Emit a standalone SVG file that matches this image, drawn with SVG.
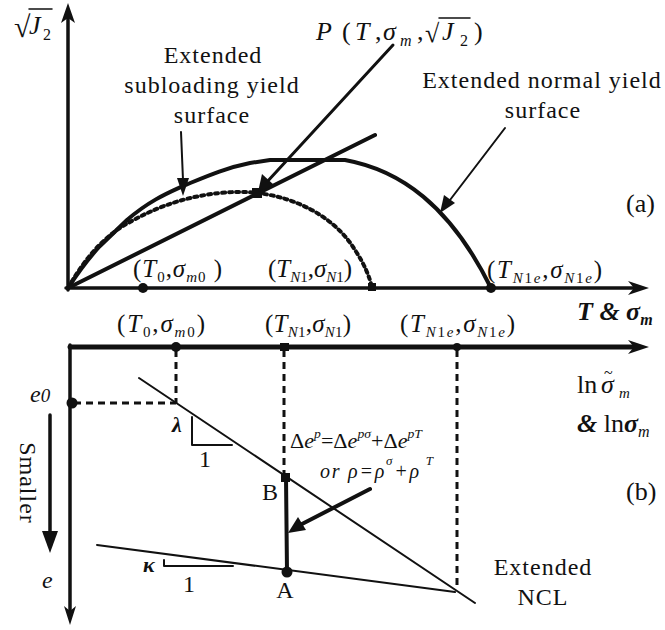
<svg xmlns="http://www.w3.org/2000/svg" width="665" height="630" viewBox="0 0 665 630">
<style>
text{font-family:"Liberation Serif","Times New Roman",serif;fill:#111}
.lab{font-size:24px;letter-spacing:1px;text-anchor:middle}
.it{font-style:italic}
.bi{font-style:italic;font-weight:bold}
.ln{stroke:#111;fill:none;stroke-linecap:round;stroke-linejoin:round}
.ax{stroke-width:3.5}
.dash{stroke:#111;fill:none;stroke-width:3;stroke-dasharray:7 5}
.dot{fill:#111}
</style>
<rect width="665" height="630" fill="#fff"/>

<!-- Part (a) -->
<g id="axes-a">
<line class="ln ax" x1="68" y1="290" x2="68" y2="16"/>
<polygon class="dot" points="68,3 61,23 68,18 75,23"/>
<line class="ln ax" x1="66" y1="288" x2="636" y2="288"/>
<polygon class="dot" points="649,288 628,281 634,288 628,295"/>
</g>

<g id="normal-surface">
<path class="ln" stroke-width="4" d="M68,288 Q85,262 100,246 L127,220 C150,200 170,192 183,186 C205,177 225,168 250,163 L270,160 L345,160 C400,170 450,205 491,288"/>
</g>
<g id="subloading-surface">
<path class="ln" stroke-width="4" stroke-linecap="butt" stroke-dasharray="3 4" d="M68,288 C85,258 105,235 130,222 C160,205 190,196 220,193 C240,191 255,192 270,195 C310,203 340,225 355,250 C365,265 370,278 372,288"/>
</g>
<g id="stress-line">
<line class="ln" stroke-width="4" x1="68" y1="288" x2="375" y2="135"/>
</g>
<g id="points-a">
<circle class="dot" cx="143" cy="288" r="5"/>
<rect class="dot" x="368" y="283" width="8" height="8"/>
<circle class="dot" cx="491" cy="288" r="5"/>
<rect class="dot" x="252" y="188" width="10" height="10"/>
</g>

<g id="labels-a">
<text x="14" y="37" font-size="30">√</text>
<line class="ln" stroke-width="1.5" x1="29" y1="9" x2="52" y2="9"/>
<text x="29" y="34" font-size="26" class="it">J</text>
<text x="43" y="40" font-size="16">2</text>

<text x="316" y="40" font-size="26" class="it">P</text>
<text x="342" y="40" font-size="26">(</text>
<text x="355" y="40" font-size="26" class="it">T</text>
<text x="375" y="40" font-size="26">,</text>
<text x="383" y="40" font-size="26" class="it">σ</text>
<text x="400" y="46" font-size="16" class="it">m</text>
<text x="417" y="40" font-size="26">,</text>
<text x="425" y="42" font-size="26">√</text>
<line class="ln" stroke-width="1.5" x1="439" y1="18" x2="470" y2="18"/>
<text x="442" y="40" font-size="26" class="it">J</text>
<text x="460" y="46" font-size="16">2</text>
<text x="474" y="40" font-size="26">)</text>

<text class="lab" x="213" y="63">Extended</text>
<text class="lab" x="212" y="93">subloading yield</text>
<text class="lab" x="212" y="123">surface</text>

<text class="lab" x="542" y="88">Extended normal yield</text>
<text class="lab" x="543" y="118">surface</text>

<text x="626" y="212" font-size="26">(a)</text>

<text x="133" y="277" font-size="25" textLength="89" lengthAdjust="spacing">(<tspan class="it">T</tspan><tspan font-size="15" dy="5">0</tspan><tspan dy="-5">,</tspan><tspan class="it">σ</tspan><tspan font-size="15" class="it" dy="5">m</tspan><tspan font-size="15">0</tspan><tspan dy="-5"> )</tspan></text>
<text x="268" y="277" font-size="25" textLength="84" lengthAdjust="spacing">(<tspan class="it">T</tspan><tspan font-size="15" class="it" dy="5">N</tspan><tspan font-size="15">1</tspan><tspan dy="-5">,</tspan><tspan class="it">σ</tspan><tspan font-size="15" class="it" dy="5">N</tspan><tspan font-size="15">1</tspan><tspan dy="-5">)</tspan></text>
<text x="487" y="278" font-size="25" textLength="115" lengthAdjust="spacing">(<tspan class="it">T</tspan><tspan font-size="15" class="it" dy="5">N</tspan><tspan font-size="15">1</tspan><tspan font-size="15" class="it">e</tspan><tspan dy="-5">,</tspan><tspan class="it">σ</tspan><tspan font-size="15" class="it" dy="5">N</tspan><tspan font-size="15">1</tspan><tspan font-size="15" class="it">e</tspan><tspan dy="-5">)</tspan></text>

<text x="577" y="320" font-size="26" class="bi">T &amp; σ<tspan font-size="16" dy="5">m</tspan></text>
</g>

<!-- Part (b) -->
<g id="axes-b">
<line class="ln" stroke-width="5" stroke-linecap="square" x1="70" y1="347" x2="634" y2="347"/>
<polygon class="dot" points="649,347 628,340 634,347 628,354"/>
<line class="ln ax" x1="70" y1="345" x2="70" y2="612"/>
<polygon class="dot" points="70,625 64,606 70,611 76,606"/>
</g>

<g id="guides-b">
<line class="dash" x1="176" y1="350" x2="176" y2="403"/>
<line class="dash" x1="74" y1="403" x2="176" y2="403"/>
<line class="dash" x1="284" y1="350" x2="284" y2="474"/>
<line class="dash" x1="457" y1="350" x2="457" y2="590"/>
</g>

<g id="ncl">
<line class="ln" stroke-width="2" x1="139" y1="378" x2="475" y2="603"/>
<polyline class="ln" stroke-width="2" points="192,417 192,445 232,445"/>
</g>
<g id="url">
<line class="ln" stroke-width="2" x1="97" y1="545" x2="455" y2="592"/>
<polyline class="ln" stroke-width="2" points="164,560 164,566 233,566"/>
</g>
<g id="path-BA">
<line class="ln" stroke-width="4" x1="286" y1="477" x2="287" y2="572"/>
</g>
<g id="points-b">
<circle class="dot" cx="176" cy="347" r="5"/>
<rect class="dot" x="280" y="343" width="9" height="8"/>
<circle class="dot" cx="457" cy="347" r="4"/>
<circle class="dot" cx="72" cy="403" r="5.5"/>
<rect class="dot" x="281" y="473" width="9" height="9"/>
<circle class="dot" cx="287" cy="572" r="5.5"/>
</g>

<g id="labels-b">
<text x="117" y="332" font-size="25" textLength="88" lengthAdjust="spacing">(<tspan class="it">T</tspan><tspan font-size="15" dy="5">0</tspan><tspan dy="-5">,</tspan><tspan class="it">σ</tspan><tspan font-size="15" class="it" dy="5">m</tspan><tspan font-size="15">0</tspan><tspan dy="-5">)</tspan></text>
<text x="265" y="332" font-size="25" textLength="86" lengthAdjust="spacing">(<tspan class="it">T</tspan><tspan font-size="15" class="it" dy="5">N</tspan><tspan font-size="15">1</tspan><tspan dy="-5">,</tspan><tspan class="it">σ</tspan><tspan font-size="15" class="it" dy="5">N</tspan><tspan font-size="15">1</tspan><tspan dy="-5">)</tspan></text>
<text x="400" y="332" font-size="25" textLength="115" lengthAdjust="spacing">(<tspan class="it">T</tspan><tspan font-size="15" class="it" dy="5">N</tspan><tspan font-size="15">1</tspan><tspan font-size="15" class="it">e</tspan><tspan dy="-5">,</tspan><tspan class="it">σ</tspan><tspan font-size="15" class="it" dy="5">N</tspan><tspan font-size="15">1</tspan><tspan font-size="15" class="it">e</tspan><tspan dy="-5">)</tspan></text>

<text x="577" y="393" font-size="26">ln</text>
<text x="601" y="393" font-size="26" class="it">σ</text>
<text x="604" y="378" font-size="16">~</text>
<text x="619" y="398" font-size="15" class="it">m</text>

<text x="577" y="432" font-size="26"><tspan class="bi">&amp;</tspan> ln<tspan class="bi">σ</tspan><tspan class="it" font-size="16" dy="5">m</tspan></text>

<text x="30" y="402" font-size="24" class="it">e<tspan font-size="19">0</tspan></text>
<text x="42" y="588" font-size="24" class="it">e</text>
<text x="172" y="432" font-size="22" class="bi">λ</text>
<text x="205" y="467" font-size="24" text-anchor="middle">1</text>
<text x="143" y="572" font-size="22" class="bi">κ</text>
<text x="189" y="592" font-size="24" text-anchor="middle">1</text>
<text x="270" y="500" font-size="24" text-anchor="middle">B</text>
<text x="285" y="598" font-size="24" text-anchor="middle">A</text>

<text x="290" y="448" font-size="21" textLength="132" lengthAdjust="spacingAndGlyphs">Δ<tspan class="it">e</tspan><tspan class="it" font-size="13" dy="-10">p</tspan><tspan dy="10">=Δ</tspan><tspan class="it">e</tspan><tspan class="it" font-size="13" dy="-10">pσ</tspan><tspan dy="10">+Δ</tspan><tspan class="it">e</tspan><tspan class="it" font-size="13" dy="-10">pT</tspan></text>
<text x="320" y="478" font-size="20" class="it" textLength="113" lengthAdjust="spacing">or ρ=ρ<tspan font-size="13" dy="-13">σ</tspan><tspan dy="13">+ρ</tspan><tspan font-size="13" dy="-13"> T</tspan></text>

<text x="626" y="500" font-size="26">(b)</text>
<text class="lab" x="543" y="575">Extended</text>
<text class="lab" x="543" y="605">NCL</text>

<text class="lab" transform="translate(20,483) rotate(90)" x="0" y="0">Smaller</text>
</g>

<g id="connectors">
<line class="ln" stroke-width="3" x1="393" y1="45" x2="266" y2="183"/>
<polygon class="dot" points="258,192 262,174 274,185"/>
<line class="ln" stroke-width="2" x1="181" y1="132" x2="183" y2="180"/>
<polygon class="dot" points="183,196 177,178 189,178"/>
<line class="ln" stroke-width="2" x1="505" y1="128" x2="450" y2="200"/>
<polygon class="dot" points="440,213 444,195 455,203"/>
<line class="ln" stroke-width="4" x1="370" y1="489" x2="302" y2="524"/>
<polygon class="dot" points="288,533 298,517 306,530"/>
<line class="ln" stroke-width="3.5" x1="50" y1="415" x2="50" y2="535"/>
<polygon class="dot" points="50,553 42,531 58,531"/>
</g>
</svg>
